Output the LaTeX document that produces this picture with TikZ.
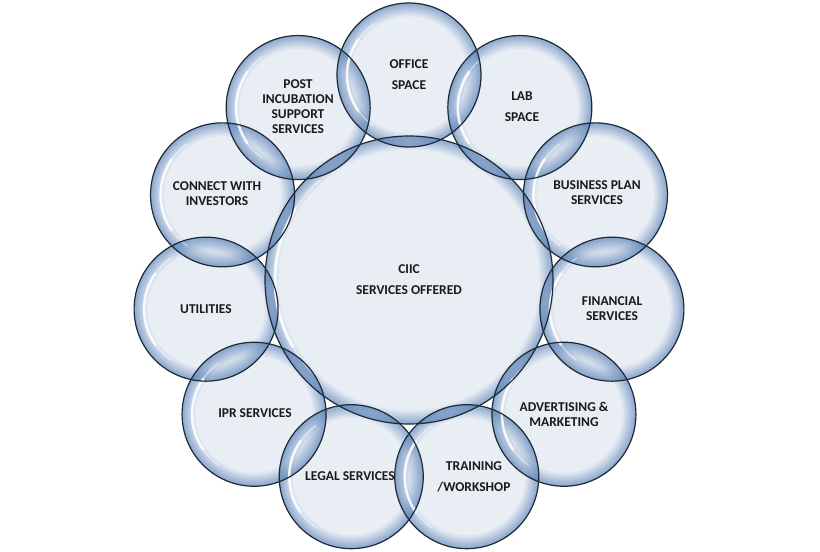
\documentclass[tikz,border=0pt]{standalone}
\usepackage{fontspec}
\setmainfont{Carlito}
\usetikzlibrary{calc}
\definecolor{bOut}{HTML}{587FB5}
\definecolor{bLine}{HTML}{1E2A36}
\definecolor{txt}{HTML}{1A1A1A}
\tikzset{
  bub/.style={circle, minimum size=144pt, inner sep=0pt},
  bigbub/.style={circle, minimum size=288pt, inner sep=0pt},
  tint/.style={fill=bOut, fill opacity=.13},
  glowring/.style={fill=bOut, fill opacity=.08, even odd rule},
  rim/.style={draw=bLine, line width=1.2pt},
  shine/.style={draw=white, line cap=round},
  lbl/.style={font=\bfseries\fontsize{13.5}{15}\selectfont, align=center, text=txt, inner sep=0pt},
  lblwide/.style={font=\bfseries\fontsize{13.5}{21}\selectfont, align=center, text=txt, inner sep=0pt},
}
% #1 node name, #2 radius, #3 list of glow widths
\newcommand\bubbleglow[3]{%
  \fill[tint] (#1.center) circle[radius=#2];
  \foreach \w in {#3}{%
    \fill[glowring] (#1.center) circle[radius=#2] circle[radius=#2-\w];
  }%
}
\begin{document}
\begin{tikzpicture}[x=1pt,y=-1pt]
\useasboundingbox (0,0) rectangle (820,552);
\coordinate (c) at (409,280);
% satellite bubbles (y axis points down, so angles run clockwise from the right)
\foreach \k in {0,...,10}{
  \node[bub] (s\k) at ($(c)+({\k*360/11-90}:205)$) {};
}
\node[bigbub] (core) at (c) {};
% translucent fills with an inner glow
\foreach \k in {0,...,10}{
  \bubbleglow{s\k}{72}{0.8,1.6,2.4,3.3,4.2,5.2,6.3,7.5,8.8,10.2,11.8,13.5}
}
\bubbleglow{core}{144}{0.8,1.6,2.4,3.3,4.2,5.2,6.3,7.5,8.8,10.2,11.8,13.5}
% highlights
\foreach \k in {0,...,10}{
  \draw[shine, line width=1.4pt, opacity=.45] ($(s\k)+(125:62)$) arc[start angle=125, end angle=235, radius=62];
  \draw[shine, line width=2.6pt, opacity=.8] ($(s\k)+(145:62)$) arc[start angle=145, end angle=215, radius=62];
}
\draw[shine, line width=1.6pt, opacity=.45] ($(core)+(135:134)$) arc[start angle=135, end angle=228, radius=134];
\draw[shine, line width=3pt, opacity=.8] ($(core)+(150:134)$) arc[start angle=150, end angle=212, radius=134];
% rims
\foreach \k in {0,...,10}{
  \draw[rim] (s\k.center) circle[radius=72];
}
\draw[rim] (core.center) circle[radius=144];
% labels
\node[lblwide] (t0) at (409,75) {OFFICE\\SPACE};
\node[lblwide] (t1) at (522,107) {LAB\\SPACE};
\node[lbl] (t2) at (597,193) {BUSINESS PLAN\\SERVICES};
\node[lbl] (t3) at (612,308.5) {FINANCIAL\\SERVICES};
\node[lbl] (t4) at (564,414) {ADVERTISING \&\\MARKETING};
\node[lblwide] (t5) at (474,476.5) {TRAINING\\/WORKSHOP};
\node[lbl] (t6) at (350,476) {LEGAL SERVICES};
\node[lbl] (t7) at (255,413) {IPR SERVICES};
\node[lbl] (t8) at (206,309) {UTILITIES};
\node[lbl] (t9) at (217,193.5) {CONNECT WITH\\INVESTORS};
\node[lbl] (t10) at (298,106.5) {POST\\INCUBATION\\SUPPORT\\SERVICES};
\node[lblwide] (tc) at (409,280) {CIIC\\SERVICES OFFERED};
\end{tikzpicture}
\end{document}
